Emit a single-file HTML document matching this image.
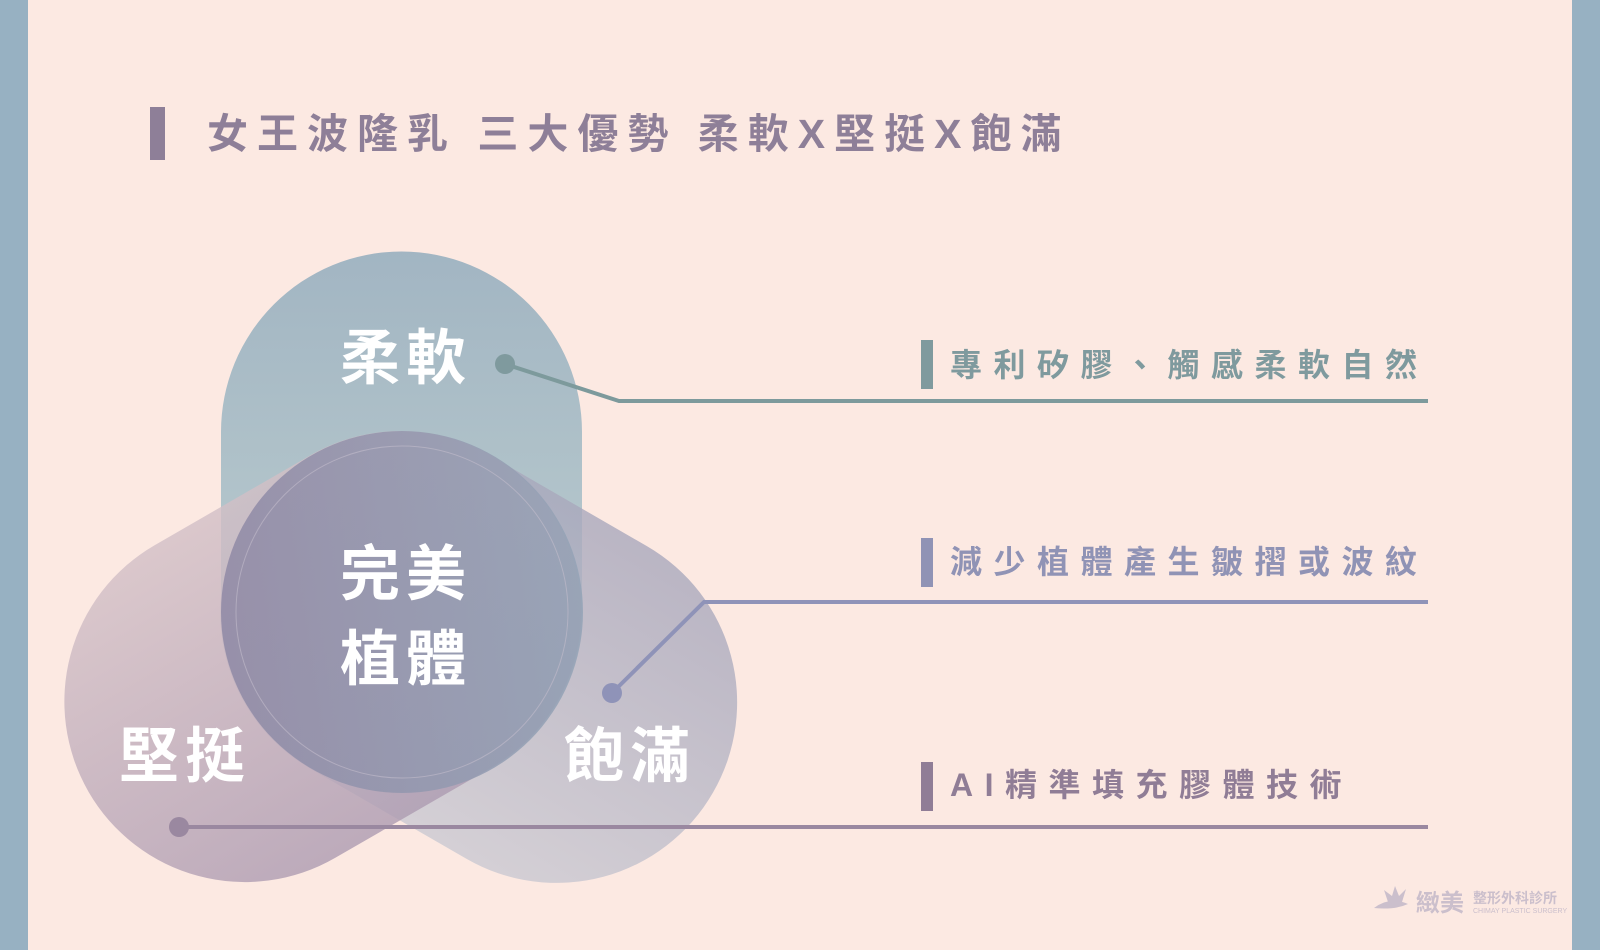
<!DOCTYPE html>
<html><head><meta charset="utf-8"><style>
html,body{margin:0;padding:0;width:1600px;height:950px;overflow:hidden;background:#fce9e2;}
svg{display:block}
text{font-family:"Liberation Sans","Noto Sans CJK TC",sans-serif;}
</style></head><body>
<svg width="1600" height="950" viewBox="0 0 1600 950" xmlns="http://www.w3.org/2000/svg">
<defs>
<linearGradient id="gt" x1="0" y1="0" x2="0" y2="1">
<stop offset="0" stop-color="#92acbd"/><stop offset="1" stop-color="#b9d0d0"/></linearGradient>
<linearGradient id="gl" x1="0" y1="0" x2="1" y2="0">
<stop offset="0" stop-color="#ad9bb1"/><stop offset="1" stop-color="#d2bfc6"/></linearGradient>
<linearGradient id="gr" x1="0" y1="0" x2="1" y2="0">
<stop offset="0" stop-color="#a9a8bc"/><stop offset="1" stop-color="#cac9d2"/></linearGradient>
<linearGradient id="gc" x1="0" y1="0" x2="1" y2="0">
<stop offset="0" stop-color="#8f89a5"/><stop offset="1" stop-color="#94a3b6"/></linearGradient>
</defs>
<rect x="0" y="0" width="28" height="950" fill="#97b1c2"/>
<rect x="1572" y="0" width="28" height="950" fill="#97b1c2"/>
<rect x="150" y="107" width="15" height="53" fill="#8e7f98"/>
<text x="207" y="148" font-size="41" font-weight="bold" fill="#8e7f98" letter-spacing="9">女王波隆乳 三大優勢 柔軟X堅挺X飽滿</text>

<g opacity="0.85">
<path d="M221,432 A180.5,180.5 0 0 1 582,432 L582,612 A180.5,180.5 0 0 1 221,612 Z" fill="url(#gt)"/>
</g>
<g transform="rotate(120 401 612)" opacity="0.8">
<path d="M221,432 A180.5,180.5 0 0 1 582,432 L582,612 A180.5,180.5 0 0 1 221,612 Z" fill="url(#gr)"/>
</g>
<g transform="rotate(-120 401 612)" opacity="0.8">
<path d="M221,432 A180.5,180.5 0 0 1 582,432 L582,612 A180.5,180.5 0 0 1 221,612 Z" fill="url(#gl)"/>
</g>
<circle cx="402" cy="612" r="181" fill="url(#gc)" opacity="0.85"/>
<circle cx="402" cy="612" r="166" fill="none" stroke="#c3bccc" stroke-width="1" opacity="0.6"/>

<g fill="#ffffff" font-size="60" font-weight="bold" text-anchor="middle">
<text x="406" y="379" letter-spacing="6">柔軟</text>
<text x="406" y="595" letter-spacing="6">完美</text>
<text x="406" y="680" letter-spacing="6">植體</text>
<text x="185" y="777" letter-spacing="6">堅挺</text>
<text x="630" y="777" letter-spacing="6">飽滿</text>
</g>

<polyline points="505,364 619,401 1428,401" fill="none" stroke="#7d9a9c" stroke-width="4"/>
<circle cx="505" cy="364" r="10" fill="#7f9a9e"/>
<polyline points="612,693 704,602 1428,602" fill="none" stroke="#8f93b8" stroke-width="4"/>
<circle cx="612" cy="693" r="10" fill="#8f93b8"/>
<line x1="179" y1="827" x2="1428" y2="827" stroke="#9a88a0" stroke-width="4"/>
<circle cx="179" cy="827" r="10" fill="#9a88a0"/>

<rect x="921" y="340" width="12" height="49" fill="#7f9a9e"/>
<text x="950" y="376" font-size="32" font-weight="bold" fill="#7f9a9e" letter-spacing="11.5">專利矽膠、觸感柔軟自然</text>
<rect x="921" y="538" width="12" height="49" fill="#9093b5"/>
<text x="950" y="573" font-size="32" font-weight="bold" fill="#9093b5" letter-spacing="11.5">減少植體產生皺摺或波紋</text>
<rect x="921" y="762" width="12" height="49" fill="#907d96"/>
<text x="950" y="796" font-size="32" font-weight="bold" fill="#907d96" letter-spacing="11.5">AI精準填充膠體技術</text>

<g fill="#cbbfcc">
<path d="M1374,908 Q1390,896 1408,904 Q1395,910 1374,908 Z"/>
<path d="M1388,902 L1384,890 L1392,896 L1395,886 L1399,896 L1406,889 L1402,902 Z"/>
<text x="1416" y="911" font-size="24" font-weight="bold">緻美</text>
<text x="1473" y="903" font-size="14" font-weight="bold">整形外科診所</text>
<text x="1473" y="913" font-size="7">CHIMAY PLASTIC SURGERY</text>
</g>
</svg>
</body></html>
